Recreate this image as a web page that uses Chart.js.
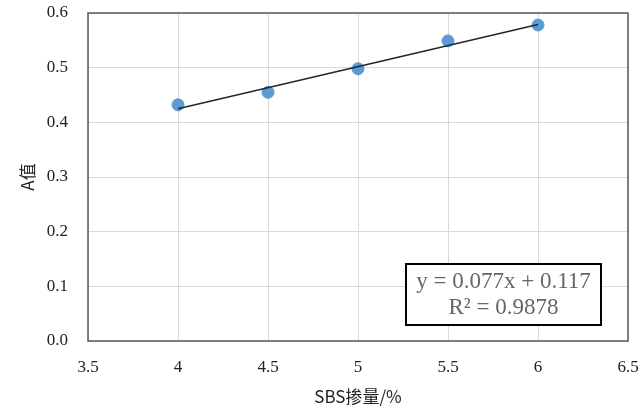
<!DOCTYPE html>
<html>
<head>
<meta charset="utf-8">
<script src="https://cdn.jsdelivr.net/npm/chart.js@4"></script>
<style>
    html, body { margin: 0; padding: 0; background: #fff; }
    #wrap { width: 640px; height: 411px; }
</style>
</head>
<body>
<div id="wrap"><canvas id="chart-sbs" width="640" height="411"></canvas></div>
<script>
// datos
const SBS_X = [4, 4.5, 5, 5.5, 6];
const VALOR_A = [0.432, 0.455, 0.498, 0.549, 0.578];

// recta de ajuste y = 0.077x + 0.117
const PENDIENTE = 0.077;
const INTERCEPTO = 0.117;
const AJUSTE_X = [4, 6];
const ETIQUETA_EC = 'y = 0.077x + 0.117';
const ETIQUETA_R2 = 'R² = 0.9878';

const SERIF = "'Liberation Serif', 'DejaVu Serif', serif";
const SANS = "'Noto Sans CJK SC', 'Noto Sans', sans-serif";

// marco del area de trazado + cuadro de la ecuacion
const marcoPlugin = {
    id: 'marco',
    afterDraw(chart) {
        const { ctx, chartArea: a } = chart;
        ctx.save();
        ctx.strokeStyle = '#595959';
        ctx.lineWidth = 1.5;
        ctx.strokeRect(a.left, a.top, a.right - a.left, a.bottom - a.top);

        // cuadro de la ecuacion
        const bx = 406, by = 264, bw = 195, bh = 61;
        ctx.fillStyle = '#fff';
        ctx.fillRect(bx, by, bw, bh);
        ctx.strokeStyle = '#000';
        ctx.lineWidth = 2;
        ctx.strokeRect(bx, by, bw, bh);
        ctx.fillStyle = '#666';
        ctx.font = '23px ' + SERIF;
        ctx.textAlign = 'center';
        ctx.textBaseline = 'middle';
        ctx.fillText(ETIQUETA_EC, bx + bw / 2, by + 18);
        ctx.fillText(ETIQUETA_R2, bx + bw / 2, by + 44);
        ctx.restore();
    }
};

const ctx = document.getElementById('chart-sbs').getContext('2d');
new Chart(ctx, {
    type: 'scatter',
    data: {
        datasets: [
            {
                label: 'A值',
                data: SBS_X.map((x, i) => ({ x, y: VALOR_A[i] })),
                backgroundColor: '#5b9bd5',
                borderColor: '#5b9bd5',
                pointRadius: 6,
                order: 2,
            },
            {
                label: 'Lineal',
                type: 'line',
                data: AJUSTE_X.map(x => ({ x, y: PENDIENTE * x + INTERCEPTO })),
                borderColor: '#262626',
                borderWidth: 1.5,
                pointRadius: 0,
                fill: false,
                order: 1,
            }
        ]
    },
    options: {
        responsive: false,
        animation: false,
        layout: { padding: { top: 13, right: 12, left: 0, bottom: 0 } },
        plugins: {
            legend: { display: false },
            tooltip: { enabled: false }
        },
        scales: {
            x: {
                type: 'linear',
                min: 3.5,
                max: 6.5,
                ticks: {
                    stepSize: 0.5,
                    padding: 16,
                    color: '#222',
                    font: { family: SERIF, size: 17 },
                    callback: v => String(v)
                },
                grid: { color: '#d9d9d9', drawTicks: false },
                border: { display: false },
                title: {
                    display: true,
                    text: 'SBS掺量/%',
                    color: '#222',
                    font: { family: SANS, size: 17 },
                    padding: { top: 3 }
                },
                afterFit: s => {
                    s.height = 70;
                    s.paddingLeft = 0;
                    s.paddingRight = 0;
                }
            },
            y: {
                min: 0,
                max: 0.6,
                ticks: {
                    stepSize: 0.1,
                    padding: 20,
                    color: '#222',
                    font: { family: SERIF, size: 17 },
                    callback: v => v.toFixed(1)
                },
                grid: { color: '#d9d9d9', drawTicks: false },
                border: { display: false },
                title: {
                    display: true,
                    text: 'A值',
                    color: '#222',
                    font: { family: SANS, size: 17 },
                    padding: { top: 17, bottom: 4 }
                },
                afterFit: s => {
                    s.width = 88;
                    s.paddingTop = 0;
                    s.paddingBottom = 0;
                }
            }
        }
    },
    plugins: [marcoPlugin]
});
</script>
</body>
</html>
